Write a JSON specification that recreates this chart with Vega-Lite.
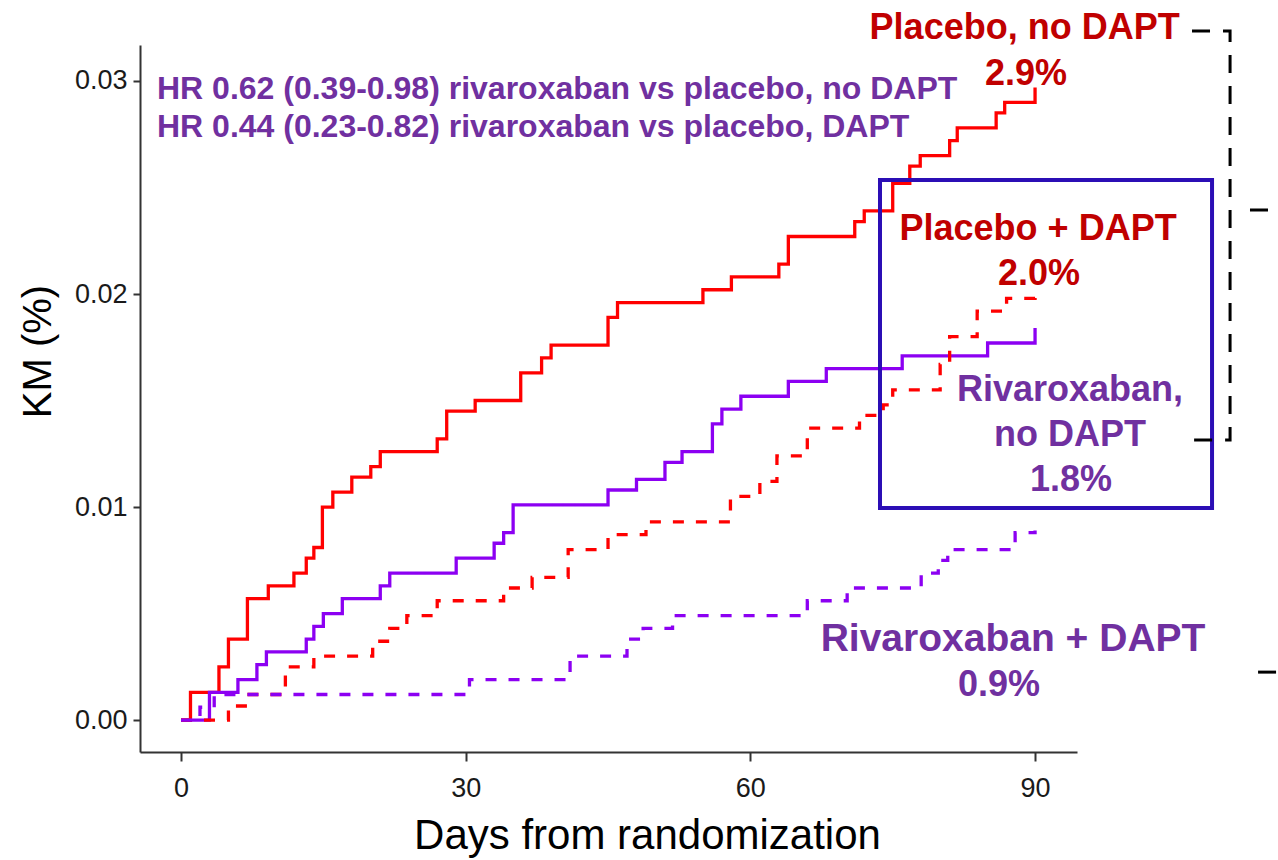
{
  "$schema": "https://vega.github.io/schema/vega-lite/v6.json",
  "width": 937,
  "height": 707,
  "autosize": {"type": "none"},
  "padding": {"left": 140, "top": 45, "right": 201, "bottom": 108},
  "background": "white",
  "config": {"view": {"stroke": null}},
  "datasets": {
    "km": [
      {"series": "Placebo, no DAPT", "arm": "Placebo", "dapt": "no DAPT", "day": 0, "km": 0},
      {"series": "Placebo, no DAPT", "arm": "Placebo", "dapt": "no DAPT", "day": 1, "km": 0.0013},
      {"series": "Placebo, no DAPT", "arm": "Placebo", "dapt": "no DAPT", "day": 4, "km": 0.0025},
      {"series": "Placebo, no DAPT", "arm": "Placebo", "dapt": "no DAPT", "day": 5, "km": 0.0038},
      {"series": "Placebo, no DAPT", "arm": "Placebo", "dapt": "no DAPT", "day": 7, "km": 0.0057},
      {"series": "Placebo, no DAPT", "arm": "Placebo", "dapt": "no DAPT", "day": 9.2, "km": 0.0063},
      {"series": "Placebo, no DAPT", "arm": "Placebo", "dapt": "no DAPT", "day": 11.9, "km": 0.0069},
      {"series": "Placebo, no DAPT", "arm": "Placebo", "dapt": "no DAPT", "day": 13.2, "km": 0.0076},
      {"series": "Placebo, no DAPT", "arm": "Placebo", "dapt": "no DAPT", "day": 14, "km": 0.0081},
      {"series": "Placebo, no DAPT", "arm": "Placebo", "dapt": "no DAPT", "day": 14.9, "km": 0.0100},
      {"series": "Placebo, no DAPT", "arm": "Placebo", "dapt": "no DAPT", "day": 16, "km": 0.0107},
      {"series": "Placebo, no DAPT", "arm": "Placebo", "dapt": "no DAPT", "day": 18, "km": 0.0114},
      {"series": "Placebo, no DAPT", "arm": "Placebo", "dapt": "no DAPT", "day": 20, "km": 0.0119},
      {"series": "Placebo, no DAPT", "arm": "Placebo", "dapt": "no DAPT", "day": 21, "km": 0.0126},
      {"series": "Placebo, no DAPT", "arm": "Placebo", "dapt": "no DAPT", "day": 27, "km": 0.0132},
      {"series": "Placebo, no DAPT", "arm": "Placebo", "dapt": "no DAPT", "day": 28, "km": 0.0145},
      {"series": "Placebo, no DAPT", "arm": "Placebo", "dapt": "no DAPT", "day": 31, "km": 0.0150},
      {"series": "Placebo, no DAPT", "arm": "Placebo", "dapt": "no DAPT", "day": 35.8, "km": 0.0163},
      {"series": "Placebo, no DAPT", "arm": "Placebo", "dapt": "no DAPT", "day": 38, "km": 0.0170},
      {"series": "Placebo, no DAPT", "arm": "Placebo", "dapt": "no DAPT", "day": 39, "km": 0.0176},
      {"series": "Placebo, no DAPT", "arm": "Placebo", "dapt": "no DAPT", "day": 45, "km": 0.0189},
      {"series": "Placebo, no DAPT", "arm": "Placebo", "dapt": "no DAPT", "day": 46, "km": 0.0196},
      {"series": "Placebo, no DAPT", "arm": "Placebo", "dapt": "no DAPT", "day": 55, "km": 0.0202},
      {"series": "Placebo, no DAPT", "arm": "Placebo", "dapt": "no DAPT", "day": 58, "km": 0.0208},
      {"series": "Placebo, no DAPT", "arm": "Placebo", "dapt": "no DAPT", "day": 63, "km": 0.0214},
      {"series": "Placebo, no DAPT", "arm": "Placebo", "dapt": "no DAPT", "day": 64, "km": 0.0227},
      {"series": "Placebo, no DAPT", "arm": "Placebo", "dapt": "no DAPT", "day": 71, "km": 0.0234},
      {"series": "Placebo, no DAPT", "arm": "Placebo", "dapt": "no DAPT", "day": 72, "km": 0.0239},
      {"series": "Placebo, no DAPT", "arm": "Placebo", "dapt": "no DAPT", "day": 75, "km": 0.0252},
      {"series": "Placebo, no DAPT", "arm": "Placebo", "dapt": "no DAPT", "day": 76.8, "km": 0.0260},
      {"series": "Placebo, no DAPT", "arm": "Placebo", "dapt": "no DAPT", "day": 77.9, "km": 0.0265},
      {"series": "Placebo, no DAPT", "arm": "Placebo", "dapt": "no DAPT", "day": 81, "km": 0.0272},
      {"series": "Placebo, no DAPT", "arm": "Placebo", "dapt": "no DAPT", "day": 81.8, "km": 0.0278},
      {"series": "Placebo, no DAPT", "arm": "Placebo", "dapt": "no DAPT", "day": 85.9, "km": 0.0285},
      {"series": "Placebo, no DAPT", "arm": "Placebo", "dapt": "no DAPT", "day": 86.8, "km": 0.0290},
      {"series": "Placebo, no DAPT", "arm": "Placebo", "dapt": "no DAPT", "day": 90, "km": 0.0297},

      {"series": "Rivaroxaban, no DAPT", "arm": "Rivaroxaban", "dapt": "no DAPT", "day": 0, "km": 0},
      {"series": "Rivaroxaban, no DAPT", "arm": "Rivaroxaban", "dapt": "no DAPT", "day": 3, "km": 0.0013},
      {"series": "Rivaroxaban, no DAPT", "arm": "Rivaroxaban", "dapt": "no DAPT", "day": 6, "km": 0.0019},
      {"series": "Rivaroxaban, no DAPT", "arm": "Rivaroxaban", "dapt": "no DAPT", "day": 8, "km": 0.0026},
      {"series": "Rivaroxaban, no DAPT", "arm": "Rivaroxaban", "dapt": "no DAPT", "day": 9, "km": 0.0032},
      {"series": "Rivaroxaban, no DAPT", "arm": "Rivaroxaban", "dapt": "no DAPT", "day": 13.2, "km": 0.0038},
      {"series": "Rivaroxaban, no DAPT", "arm": "Rivaroxaban", "dapt": "no DAPT", "day": 14, "km": 0.0044},
      {"series": "Rivaroxaban, no DAPT", "arm": "Rivaroxaban", "dapt": "no DAPT", "day": 15, "km": 0.0050},
      {"series": "Rivaroxaban, no DAPT", "arm": "Rivaroxaban", "dapt": "no DAPT", "day": 17, "km": 0.0057},
      {"series": "Rivaroxaban, no DAPT", "arm": "Rivaroxaban", "dapt": "no DAPT", "day": 21, "km": 0.0063},
      {"series": "Rivaroxaban, no DAPT", "arm": "Rivaroxaban", "dapt": "no DAPT", "day": 22, "km": 0.0069},
      {"series": "Rivaroxaban, no DAPT", "arm": "Rivaroxaban", "dapt": "no DAPT", "day": 29, "km": 0.0076},
      {"series": "Rivaroxaban, no DAPT", "arm": "Rivaroxaban", "dapt": "no DAPT", "day": 33, "km": 0.0083},
      {"series": "Rivaroxaban, no DAPT", "arm": "Rivaroxaban", "dapt": "no DAPT", "day": 34, "km": 0.0088},
      {"series": "Rivaroxaban, no DAPT", "arm": "Rivaroxaban", "dapt": "no DAPT", "day": 35, "km": 0.0101},
      {"series": "Rivaroxaban, no DAPT", "arm": "Rivaroxaban", "dapt": "no DAPT", "day": 45, "km": 0.0108},
      {"series": "Rivaroxaban, no DAPT", "arm": "Rivaroxaban", "dapt": "no DAPT", "day": 48, "km": 0.0113},
      {"series": "Rivaroxaban, no DAPT", "arm": "Rivaroxaban", "dapt": "no DAPT", "day": 51, "km": 0.0121},
      {"series": "Rivaroxaban, no DAPT", "arm": "Rivaroxaban", "dapt": "no DAPT", "day": 52.8, "km": 0.0126},
      {"series": "Rivaroxaban, no DAPT", "arm": "Rivaroxaban", "dapt": "no DAPT", "day": 56, "km": 0.0139},
      {"series": "Rivaroxaban, no DAPT", "arm": "Rivaroxaban", "dapt": "no DAPT", "day": 57, "km": 0.0146},
      {"series": "Rivaroxaban, no DAPT", "arm": "Rivaroxaban", "dapt": "no DAPT", "day": 59, "km": 0.0152},
      {"series": "Rivaroxaban, no DAPT", "arm": "Rivaroxaban", "dapt": "no DAPT", "day": 64, "km": 0.0159},
      {"series": "Rivaroxaban, no DAPT", "arm": "Rivaroxaban", "dapt": "no DAPT", "day": 68, "km": 0.0165},
      {"series": "Rivaroxaban, no DAPT", "arm": "Rivaroxaban", "dapt": "no DAPT", "day": 76, "km": 0.0171},
      {"series": "Rivaroxaban, no DAPT", "arm": "Rivaroxaban", "dapt": "no DAPT", "day": 85, "km": 0.0177},
      {"series": "Rivaroxaban, no DAPT", "arm": "Rivaroxaban", "dapt": "no DAPT", "day": 90, "km": 0.0184},

      {"series": "Placebo + DAPT", "arm": "Placebo", "dapt": "DAPT", "day": 0, "km": 0},
      {"series": "Placebo + DAPT", "arm": "Placebo", "dapt": "DAPT", "day": 5, "km": 0.00066},
      {"series": "Placebo + DAPT", "arm": "Placebo", "dapt": "DAPT", "day": 7, "km": 0.0012},
      {"series": "Placebo + DAPT", "arm": "Placebo", "dapt": "DAPT", "day": 11, "km": 0.0025},
      {"series": "Placebo + DAPT", "arm": "Placebo", "dapt": "DAPT", "day": 14, "km": 0.0030},
      {"series": "Placebo + DAPT", "arm": "Placebo", "dapt": "DAPT", "day": 20.2, "km": 0.0037},
      {"series": "Placebo + DAPT", "arm": "Placebo", "dapt": "DAPT", "day": 22, "km": 0.0043},
      {"series": "Placebo + DAPT", "arm": "Placebo", "dapt": "DAPT", "day": 23.8, "km": 0.0049},
      {"series": "Placebo + DAPT", "arm": "Placebo", "dapt": "DAPT", "day": 27, "km": 0.0056},
      {"series": "Placebo + DAPT", "arm": "Placebo", "dapt": "DAPT", "day": 34, "km": 0.0062},
      {"series": "Placebo + DAPT", "arm": "Placebo", "dapt": "DAPT", "day": 37, "km": 0.0067},
      {"series": "Placebo + DAPT", "arm": "Placebo", "dapt": "DAPT", "day": 40.8, "km": 0.0080},
      {"series": "Placebo + DAPT", "arm": "Placebo", "dapt": "DAPT", "day": 45, "km": 0.0087},
      {"series": "Placebo + DAPT", "arm": "Placebo", "dapt": "DAPT", "day": 49, "km": 0.0093},
      {"series": "Placebo + DAPT", "arm": "Placebo", "dapt": "DAPT", "day": 57.9, "km": 0.0105},
      {"series": "Placebo + DAPT", "arm": "Placebo", "dapt": "DAPT", "day": 61, "km": 0.0112},
      {"series": "Placebo + DAPT", "arm": "Placebo", "dapt": "DAPT", "day": 62.8, "km": 0.0124},
      {"series": "Placebo + DAPT", "arm": "Placebo", "dapt": "DAPT", "day": 66, "km": 0.0137},
      {"series": "Placebo + DAPT", "arm": "Placebo", "dapt": "DAPT", "day": 71.5, "km": 0.0143},
      {"series": "Placebo + DAPT", "arm": "Placebo", "dapt": "DAPT", "day": 74, "km": 0.0148},
      {"series": "Placebo + DAPT", "arm": "Placebo", "dapt": "DAPT", "day": 75, "km": 0.0155},
      {"series": "Placebo + DAPT", "arm": "Placebo", "dapt": "DAPT", "day": 80, "km": 0.0167},
      {"series": "Placebo + DAPT", "arm": "Placebo", "dapt": "DAPT", "day": 81, "km": 0.0180},
      {"series": "Placebo + DAPT", "arm": "Placebo", "dapt": "DAPT", "day": 83.9, "km": 0.0192},
      {"series": "Placebo + DAPT", "arm": "Placebo", "dapt": "DAPT", "day": 87, "km": 0.0198},
      {"series": "Placebo + DAPT", "arm": "Placebo", "dapt": "DAPT", "day": 90, "km": 0.0200},

      {"series": "Rivaroxaban + DAPT", "arm": "Rivaroxaban", "dapt": "DAPT", "day": 0, "km": 0},
      {"series": "Rivaroxaban + DAPT", "arm": "Rivaroxaban", "dapt": "DAPT", "day": 2, "km": 0.0006},
      {"series": "Rivaroxaban + DAPT", "arm": "Rivaroxaban", "dapt": "DAPT", "day": 3.5, "km": 0.0012},
      {"series": "Rivaroxaban + DAPT", "arm": "Rivaroxaban", "dapt": "DAPT", "day": 30.4, "km": 0.0019},
      {"series": "Rivaroxaban + DAPT", "arm": "Rivaroxaban", "dapt": "DAPT", "day": 41, "km": 0.0030},
      {"series": "Rivaroxaban + DAPT", "arm": "Rivaroxaban", "dapt": "DAPT", "day": 47, "km": 0.0038},
      {"series": "Rivaroxaban + DAPT", "arm": "Rivaroxaban", "dapt": "DAPT", "day": 48.7, "km": 0.0043},
      {"series": "Rivaroxaban + DAPT", "arm": "Rivaroxaban", "dapt": "DAPT", "day": 51.8, "km": 0.0049},
      {"series": "Rivaroxaban + DAPT", "arm": "Rivaroxaban", "dapt": "DAPT", "day": 66, "km": 0.0056},
      {"series": "Rivaroxaban + DAPT", "arm": "Rivaroxaban", "dapt": "DAPT", "day": 70.2, "km": 0.0062},
      {"series": "Rivaroxaban + DAPT", "arm": "Rivaroxaban", "dapt": "DAPT", "day": 78, "km": 0.0069},
      {"series": "Rivaroxaban + DAPT", "arm": "Rivaroxaban", "dapt": "DAPT", "day": 79.8, "km": 0.0075},
      {"series": "Rivaroxaban + DAPT", "arm": "Rivaroxaban", "dapt": "DAPT", "day": 80.8, "km": 0.0080},
      {"series": "Rivaroxaban + DAPT", "arm": "Rivaroxaban", "dapt": "DAPT", "day": 87.9, "km": 0.0088},
      {"series": "Rivaroxaban + DAPT", "arm": "Rivaroxaban", "dapt": "DAPT", "day": 90, "km": 0.0089}
    ],
    "redLabels": [
      {"label": "Placebo, no DAPT", "day": 88.9, "km": 0.03197},
      {"label": "2.9%", "day": 89.05, "km": 0.02981},
      {"label": "Placebo + DAPT", "day": 90.32, "km": 0.02254},
      {"label": "2.0%", "day": 90.42, "km": 0.02042}
    ],
    "purpleLabels": [
      {"label": "Rivaroxaban,", "day": 93.69, "km": 0.01498},
      {"label": "no DAPT", "day": 93.69, "km": 0.01286},
      {"label": "1.8%", "day": 93.79, "km": 0.01075},
      {"label": "0.9%", "day": 86.2, "km": 0.00113}
    ],
    "purpleWide": [
      {"label": "Rivaroxaban + DAPT", "day": 87.68, "km": 0.00324}
    ],
    "hrLabels": [
      {"label": "HR 0.62 (0.39-0.98) rivaroxaban vs placebo, no DAPT", "day": -2.53, "km": 0.02915},
      {"label": "HR 0.44 (0.23-0.82) rivaroxaban vs placebo, DAPT", "day": -2.53, "km": 0.02737}
    ],
    "box": [
      {"day": 73.66, "day2": 108.65, "km": 0.02535, "km2": 0.00995}
    ],
    "bracket": [
      {"path": "a", "order": 1, "day": 106.54, "km": 0.03235},
      {"path": "a", "order": 2, "day": 110.55, "km": 0.03235},
      {"path": "a", "order": 3, "day": 110.55, "km": 0.01315},
      {"path": "a", "order": 4, "day": 106.75, "km": 0.01315},
      {"path": "b", "order": 1, "day": 112.65, "km": 0.02394},
      {"path": "b", "order": 2, "day": 116.5, "km": 0.02394},
      {"path": "c", "order": 1, "day": 113.5, "km": 0.00225},
      {"path": "c", "order": 2, "day": 116.5, "km": 0.00225}
    ]
  },
  "encoding": {
    "x": {
      "field": "day",
      "type": "quantitative",
      "scale": {"domain": [-4.32, 94.42], "nice": false, "zero": false},
      "axis": {
        "title": "Days from randomization",
        "values": [0, 30, 60, 90],
        "format": "d",
        "grid": false,
        "domainColor": "#333333",
        "domainWidth": 2,
        "tickColor": "#333333",
        "tickWidth": 2,
        "tickSize": 9,
        "labelFont": "Liberation Sans",
        "labelFontSize": 27,
        "labelColor": "#1a1a1a",
        "labelPadding": 14,
        "titleFont": "Liberation Sans",
        "titleFontSize": 42,
        "titleFontWeight": "normal",
        "titleColor": "#000000",
        "titlePadding": 14,
        "titleX": 507
      }
    },
    "y": {
      "field": "km",
      "type": "quantitative",
      "scale": {"domain": [-0.0015, 0.03169], "nice": false, "zero": false},
      "axis": {
        "title": "KM (%)",
        "values": [0, 0.01, 0.02, 0.03],
        "format": ".2f",
        "grid": false,
        "domainColor": "#333333",
        "domainWidth": 2,
        "tickColor": "#333333",
        "tickWidth": 2,
        "tickSize": 7,
        "labelFont": "Liberation Sans",
        "labelFontSize": 27,
        "labelColor": "#1a1a1a",
        "labelPadding": 6,
        "titleFont": "Liberation Sans",
        "titleFontSize": 40,
        "titleFontWeight": "normal",
        "titleColor": "#000000",
        "titleAngle": -90,
        "titleAlign": "center",
        "titleBaseline": "middle",
        "titleX": -102,
        "titleY": 306
      }
    }
  },
  "layer": [
    {
      "data": {"name": "km"},
      "mark": {"type": "line", "interpolate": "step-after", "strokeWidth": 3.3, "clip": false},
      "encoding": {
        "color": {
          "field": "arm",
          "type": "nominal",
          "scale": {"domain": ["Placebo", "Rivaroxaban"], "range": ["#FF0000", "#8C00F2"]},
          "legend": null
        },
        "strokeDash": {
          "field": "dapt",
          "type": "nominal",
          "scale": {"domain": ["no DAPT", "DAPT"], "range": [[1, 0], [11, 12]]},
          "legend": null
        },
        "detail": {"field": "series"},
        "order": {"field": "day"}
      }
    },
    {
      "data": {"name": "box"},
      "mark": {"type": "rect", "filled": false, "stroke": "#2B0EB5", "strokeWidth": 4, "clip": false},
      "encoding": {
        "x2": {"field": "day2"},
        "y2": {"field": "km2"}
      }
    },
    {
      "data": {"name": "bracket"},
      "mark": {"type": "line", "stroke": "#000000", "strokeWidth": 3, "strokeDash": [18, 13], "clip": false},
      "encoding": {
        "detail": {"field": "path"},
        "order": {"field": "order"}
      }
    },
    {
      "data": {"name": "redLabels"},
      "mark": {"type": "text", "font": "Liberation Sans", "fontSize": 36, "fontWeight": "bold", "color": "#C00000", "align": "center", "baseline": "alphabetic", "clip": false},
      "encoding": {"text": {"field": "label"}}
    },
    {
      "data": {"name": "purpleLabels"},
      "mark": {"type": "text", "font": "Liberation Sans", "fontSize": 36, "fontWeight": "bold", "color": "#7030A0", "align": "center", "baseline": "alphabetic", "clip": false},
      "encoding": {"text": {"field": "label"}}
    },
    {
      "data": {"name": "purpleWide"},
      "mark": {"type": "text", "font": "Liberation Sans", "fontSize": 39, "fontWeight": "bold", "color": "#7030A0", "align": "center", "baseline": "alphabetic", "clip": false},
      "encoding": {"text": {"field": "label"}}
    },
    {
      "data": {"name": "hrLabels"},
      "mark": {"type": "text", "font": "Liberation Sans", "fontSize": 32, "fontWeight": "bold", "color": "#7030A0", "align": "left", "baseline": "alphabetic", "clip": false},
      "encoding": {"text": {"field": "label"}}
    }
  ]
}
